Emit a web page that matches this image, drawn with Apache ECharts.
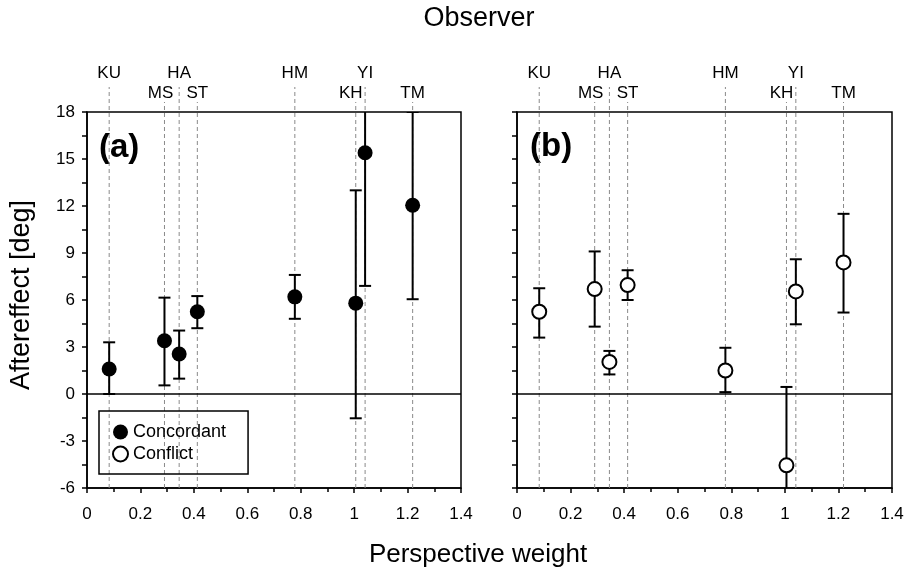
<!DOCTYPE html>
<html>
<head>
<meta charset="utf-8">
<script src="https://cdn.jsdelivr.net/npm/echarts@6/dist/echarts.min.js"></script>
<style>
  html, body { margin: 0; padding: 0; background: #fff; }
  #chart { width: 908px; height: 575px; }
</style>
</head>
<body>
<div id="chart"></div>
<script>
// observers, their perspective weight and which header row their name goes in
const observers = ['KU', 'MS', 'HA', 'ST', 'HM', 'KH', 'YI', 'TM'];
const weights = [0.083, 0.29, 0.345, 0.413, 0.778, 1.006, 1.041, 1.219];
const labelRow = [0, 1, 0, 1, 0, 1, 0, 1];

// (a) concordant: mean and error bar ends
const concMean = [1.6, 3.4, 2.55, 5.25, 6.2, 5.8, 15.4, 12.05];
const concLow = [0, 0.55, 0.98, 4.2, 4.8, -1.55, 6.9, 6.05];
const concHigh = [3.3, 6.15, 4.05, 6.25, 7.6, 13.0, 19.5, 18];

// (b) conflict
const confMean = [5.25, 6.7, 2.05, 6.95, 1.5, -4.55, 6.55, 8.4];
const confLow = [3.6, 4.3, 1.25, 6.0, 0.12, -7.5, 4.45, 5.2];
const confHigh = [6.75, 9.1, 2.75, 7.9, 2.95, 0.45, 8.6, 11.5];

const xTicks = [0, 0.2, 0.4, 0.6, 0.8, 1, 1.2, 1.4];
const yTicks = [-6, -3, 0, 3, 6, 9, 12, 15, 18];

const FONT = 'Arial, "Liberation Sans", Helvetica, sans-serif';
const labelShift = { MS: -4, KH: -5 };  // names nudged off the neighbouring dashed line

const chart = echarts.init(document.getElementById('chart'));

function renderObserver(params, api) {
  const i = params.dataIndex;
  const x = api.value(0);
  const bottom = api.coord([x, yTicks[0]]);
  const top = api.coord([x, yTicks[yTicks.length - 1]]);
  const row = api.value(1);
  const lineTop = top[1] - (row === 0 ? 25 : 10);
  const textY = top[1] - (row === 0 ? 39 : 19);
  const name = observers[i];
  return {
    type: 'group',
    children: [
      {
        type: 'line',
        shape: { x1: bottom[0], y1: bottom[1], x2: bottom[0], y2: lineTop },
        style: { stroke: '#8a8a8a', lineWidth: 1, lineDash: [4, 3] }
      },
      {
        type: 'text',
        x: bottom[0] + (labelShift[name] || 0),
        y: textY,
        style: {
          text: name, fill: '#000', font: '17px ' + FONT,
          textAlign: 'center', textVerticalAlign: 'middle'
        }
      }
    ]
  };
}

function renderErrorBar(params, api) {
  const x = api.value(0);
  const lo = api.coord([x, api.value(1)]);
  const hi = api.coord([x, api.value(2)]);
  const w = 6;
  const style = { stroke: '#000', lineWidth: 2 };
  return {
    type: 'group',
    children: [
      { type: 'line', shape: { x1: lo[0], y1: lo[1], x2: hi[0], y2: hi[1] }, style },
      { type: 'line', shape: { x1: lo[0] - w, y1: lo[1], x2: lo[0] + w, y2: lo[1] }, style },
      { type: 'line', shape: { x1: hi[0] - w, y1: hi[1], x2: hi[0] + w, y2: hi[1] }, style }
    ]
  };
}

function xAxis(gridIndex) {
  return {
    type: 'value', gridIndex,
    min: xTicks[0], max: xTicks[xTicks.length - 1], interval: xTicks[1] - xTicks[0],
    axisLine: { onZero: false, lineStyle: { color: '#000', width: 1.5 } },
    axisTick: { length: 5, lineStyle: { color: '#000', width: 1.5 } },
    minorTick: { show: true, splitNumber: 2, length: 4, lineStyle: { color: '#000', width: 1.5 } },
    axisLabel: { color: '#000', fontSize: 17, fontFamily: FONT, margin: 18,
      formatter: v => String(+v.toFixed(1)) },
    splitLine: { show: false }
  };
}

function yAxis(gridIndex, showLabels) {
  return {
    type: 'value', gridIndex,
    min: yTicks[0], max: yTicks[yTicks.length - 1], interval: yTicks[1] - yTicks[0],
    axisLine: { show: true, onZero: false, lineStyle: { color: '#000', width: 1.5 } },
    axisTick: { show: true, length: 5, lineStyle: { color: '#000', width: 1.5 } },
    minorTick: { show: true, splitNumber: 2, length: 5, lineStyle: { color: '#000', width: 1.5 } },
    axisLabel: { show: showLabels, color: '#000', fontSize: 17, fontFamily: FONT, margin: 12 },
    splitLine: { show: false }
  };
}

function panelSeries(idx, name, mean, low, high, itemStyle, size) {
  return [
    {
      type: 'custom', xAxisIndex: idx, yAxisIndex: idx, z: 1, silent: true,
      renderItem: renderObserver,
      data: weights.map((w, i) => [w, labelRow[i]])
    },
    {
      type: 'custom', xAxisIndex: idx, yAxisIndex: idx, z: 2, silent: true, clip: true,
      renderItem: renderErrorBar,
      data: weights.map((w, i) => [w, low[i], high[i]])
    },
    {
      name, type: 'scatter', xAxisIndex: idx, yAxisIndex: idx, z: 3,
      symbol: 'circle', symbolSize: size, itemStyle,
      data: weights.map((w, i) => [w, mean[i]]),
      markLine: {
        silent: true, symbol: 'none', label: { show: false },
        lineStyle: { color: '#000', width: 1.5, type: 'solid' },
        data: [{ yAxis: 0 }]
      }
    }
  ];
}

const option = {
  backgroundColor: '#fff',
  animation: false,
  textStyle: { fontFamily: FONT },
  grid: [
    { left: 87, right: 447, top: 112, bottom: 87, show: true, borderColor: '#000', borderWidth: 1.5 },
    { left: 517, right: 16, top: 112, bottom: 87, show: true, borderColor: '#000', borderWidth: 1.5 }
  ],
  xAxis: [xAxis(0), xAxis(1)],
  yAxis: [yAxis(0, true), yAxis(1, false)],
  legend: {
    data: ['Concordant', 'Conflict'],
    orient: 'vertical', left: 99, top: 411,
    icon: 'circle', itemWidth: 15, itemHeight: 15, itemGap: 4,
    padding: [12, 22, 11, 13],
    borderColor: '#000', borderWidth: 1.5, borderRadius: 0,
    textStyle: { color: '#000', fontSize: 18, fontFamily: FONT }
  },
  graphic: [
    { type: 'text', x: 479, y: 19, style: { text: 'Observer', font: '27px ' + FONT, fill: '#000', textAlign: 'center', textVerticalAlign: 'middle' } },
    { type: 'text', x: 478, y: 555, style: { text: 'Perspective weight', font: '26px ' + FONT, fill: '#000', textAlign: 'center', textVerticalAlign: 'middle' } },
    { type: 'text', x: 22, y: 295, rotation: Math.PI / 2, style: { text: 'Aftereffect [deg]', font: '27px ' + FONT, fill: '#000', textAlign: 'center', textVerticalAlign: 'middle' } },
    { type: 'text', x: 99, y: 148, style: { text: '(a)', font: 'bold 33px ' + FONT, fill: '#000', textAlign: 'left', textVerticalAlign: 'middle' } },
    { type: 'text', x: 530, y: 147, style: { text: '(b)', font: 'bold 33px ' + FONT, fill: '#000', textAlign: 'left', textVerticalAlign: 'middle' } }
  ],
  series: [
    ...panelSeries(0, 'Concordant', concMean, concLow, concHigh, { color: '#000', opacity: 1 }, 15),
    ...panelSeries(1, 'Conflict', confMean, confLow, confHigh,
      { color: '#fff', borderColor: '#000', borderWidth: 2, opacity: 1 }, 14)
  ]
};

chart.setOption(option);
</script>
</body>
</html>
